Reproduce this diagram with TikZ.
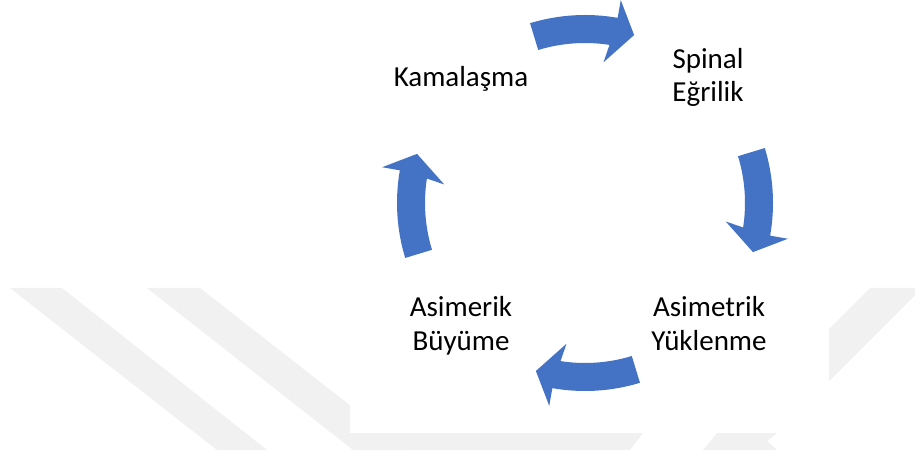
\documentclass[tikz,border=0pt]{standalone}
\usepackage{fontspec}
\setmainfont{Carlito}
\usetikzlibrary{calc}
\definecolor{arrowblue}{RGB}{68,114,196}
\definecolor{wmgrey}{RGB}{241,241,241}
\begin{document}
\begin{tikzpicture}[x=1pt,y=1pt,
  cyctext/.style={font=\fontsize{29}{33}\selectfont, align=center, inner sep=0pt, anchor=base},
  cyclearrow/.style={fill=arrowblue},
  wmark/.style={fill=wmgrey}]
\useasboundingbox (0,0) rectangle (915,450);
\fill[white] (0,0) rectangle (915,450);
% faint watermark
\fill[wmark] (10,162) -- (62,162) -- (267,0) -- (217,0) -- cycle;
\fill[wmark] (147,162) -- (200,162) -- (407,0) -- (353,0) -- cycle;
\fill[wmark] (355,0) -- (372,17) -- (643,17) -- (630,0) -- cycle;
\fill[wmark] (703,0) -- (717,17) -- (777,17) -- (767,9) -- (777,0) -- cycle;
\fill[wmark] (870,162) -- (915,162) -- (915,155) -- (829,69) -- (829,121) -- cycle;
\fill[white] (350,17) rectangle (829,450);
% cycle arrows
\coordinate (c) at (585,247);
\foreach \t in {90,0,-90,180} {
  \fill[cyclearrow] ($(c)+(\t+17:160)$) arc[start angle=\t+17, end angle=\t-8.8, radius=160]
    -- ($(c)+(\t-7.5:142)$) -- ($(c)+(\t-16.3:175)$) -- ($(c)+(\t-10:206)$)
    -- ($(c)+(\t-10:188)$) arc[start angle=\t-10, end angle=\t+17, radius=188] -- cycle;
}
% labels (base anchor = baseline of the last line)
\node[cyctext] (kam) at (461,363) {Kamalaşma};
\node[cyctext] (spi) at (708,348) {Spinal\\Eğrilik};
\node[cyctext] (asy) at (709,100) {Asimetrik\\Yüklenme};
\node[cyctext] (asb) at (461,100) {Asimerik\\Büyüme};
\end{tikzpicture}
\end{document}
